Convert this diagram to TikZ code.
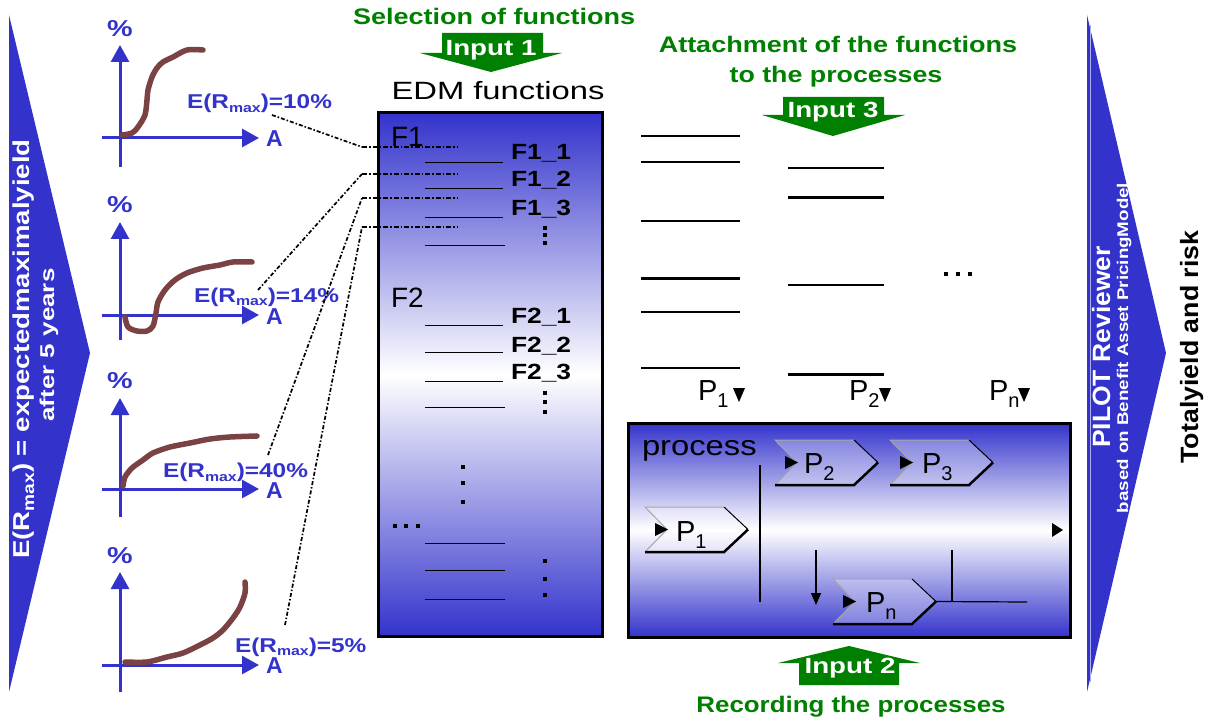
\documentclass[tikz,border=0pt]{standalone}
\usepackage{fontspec}
\setmainfont{Liberation Sans}
\usetikzlibrary{arrows.meta}
\definecolor{myblue}{RGB}{51,51,204}
\definecolor{mygreen}{RGB}{0,128,0}
\definecolor{mybrown}{RGB}{122,66,66}
\newcommand\myfs[1]{\fontsize{#1}{#1}\selectfont}
\newcommand\sx[2]{\scalebox{#1}[1]{#2}}
\begin{document}
\begin{tikzpicture}[x=1pt,y=-1pt,
  txt/.style={inner sep=0pt, outer sep=0pt},
  axis/.style={myblue, line width=3pt, -{Triangle[length=17pt,width=18pt]}},
  curve/.style={mybrown, line width=5.5pt, line join=round, line cap=round},
  axlab/.style={txt, text=myblue, font=\bfseries\myfs{23}},
  elab/.style={txt, text=myblue, font=\bfseries\myfs{20}, anchor=base west},
  diaglink/.style={black, line width=1.7pt, dash pattern=on 4pt off 2pt on 1.5pt off 2pt},
  horlink/.style={black, line width=2.3pt, dash pattern=on 5pt off 2pt on 1.5pt off 2pt},
  gtitle/.style={txt, text=mygreen, font=\bfseries\myfs{22.5}, anchor=base},
  inlab/.style={txt, text=white, font=\bfseries\myfs{22}, anchor=base},
  garrow/.style={fill=mygreen},
  flab/.style={txt, font=\bfseries\myfs{22}, anchor=base west},
  fbig/.style={txt, font=\myfs{28}, anchor=base west},
  plab/.style={txt, font=\myfs{29}, anchor=base west},
  uline/.style={black, line width=0.9pt},
  colline/.style={black, line width=1.2pt},
  colthick/.style={black, line width=3pt},
  gradbox/.style={draw=black, line width=3pt, top color=myblue, bottom color=myblue, middle color=white, inner sep=0pt},
  chev/.pic={
    \fill[white, opacity=0.3] (0,0) -- (79,0) -- (103,22.5) -- (79,45) -- (0,45) -- (22,22.5) -- cycle;
    \draw[gray!70, line width=1pt] (0,45) -- (22,22.5) -- (0,0) -- (79,0);
    \draw[black, line width=1pt] (79,0) -- (103,22.5);
    \draw[black, line width=2.5pt, line join=miter] (103,22.5) -- (79,45) -- (0,45);
    \fill[black] (10,16) -- (23,22.5) -- (10,29) -- cycle;
    \coordinate (-tip) at (103,22.5);
  }
]
\useasboundingbox (0,0) rectangle (1206,719);

% ---------- left triangle ----------
\fill[myblue] (9,15) -- (90,353) -- (9,692) -- cycle;
\node[txt, rotate=90, anchor=base, text=white, font=\bfseries\myfs{23}] (lt1) at (29,349)
  {\sx{1.2}{E(R\raisebox{-5pt}{\myfs{16}max}) = expectedmaximalyield}};
\node[txt, rotate=90, anchor=base, text=white, font=\bfseries\myfs{20}] (lt2) at (54,345)
  {\sx{1.3}{after 5 years}};

% ---------- right triangle ----------
\fill[myblue] (1087,15) -- (1166,353) -- (1087,692) -- cycle;
\draw[white!60!myblue, line width=0.8pt] (1090,25) -- (1090,682);
\node[txt, rotate=90, anchor=base, text=white, font=\bfseries\myfs{25}] (pilot) at (1110,347)
  {\sx{1.06}{PILOT Reviewer}};
\node[txt, rotate=90, anchor=base, text=white, font=\bfseries\myfs{15.5}] (bapm) at (1128,348)
  {\sx{1.21}{based on Benefit Asset PricingModel}};
\node[txt, rotate=90, anchor=base, text=black, font=\bfseries\myfs{25}] (total) at (1198,347)
  {\sx{1.07}{Totalyield and risk}};

% ---------- charts ----------
% chart 1
\draw[axis] (120,167) -- (120,45);
\draw[axis] (102,138) -- (259,138);
\draw[curve] plot[smooth] coordinates {(122,135) (132,133) (138,127) (145,115) (147,100) (148,90) (152,77) (157,68) (163,62) (173,57) (187,50) (203,50)};
\node[axlab, anchor=base] (pc1) at (120,37) {\sx{1.25}{\%}};
\node[axlab, anchor=base west] (a1) at (266,147) {A};
\node[elab] (e1) at (187,109) {\sx{1.22}{E(R\raisebox{-4pt}{\myfs{13}max})=10\%}};
% chart 2
\draw[axis] (120,340) -- (120,222);
\draw[axis] (102,315) -- (259,315);
\draw[curve] plot[smooth] coordinates {(125,317) (128,327) (137,331) (147,331) (153,326) (156,313) (158,302) (165,290) (175,280) (187,273) (203,268) (220,265) (233,262) (252,262)};
\node[axlab, anchor=base] (pc2) at (120,213) {\sx{1.25}{\%}};
\node[axlab, anchor=base west] (a2) at (266,324) {A};
\node[elab] (e2) at (194,302) {\sx{1.22}{E(R\raisebox{-3pt}{\myfs{13}max})=14\%}};
% chart 3
\draw[axis] (120,517) -- (120,398);
\draw[axis] (102,489) -- (259,489);
\draw[curve] plot[smooth] coordinates {(123,486) (125,477) (132,468) (143,460) (153,453) (170,447) (190,443) (210,439) (230,437) (257,436)};
\node[axlab, anchor=base] (pc3) at (120,388) {\sx{1.25}{\%}};
\node[axlab, anchor=base west] (a3) at (266,498) {A};
\node[elab] (e3) at (163,477) {\sx{1.22}{E(R\raisebox{-4pt}{\myfs{13}max})=40\%}};
% chart 4
\draw[axis] (120,692) -- (120,572);
\draw[axis] (102,665) -- (259,665);
\draw[curve] plot[smooth] coordinates {(125,662) (147,662) (167,657) (183,653) (200,645) (213,638) (223,630) (233,618) (240,607) (245,593) (245,582)};
\node[axlab, anchor=base] (pc4) at (120,563) {\sx{1.25}{\%}};
\node[axlab, anchor=base west] (a4) at (266,673) {A};
\node[elab] (e4) at (235,652) {\sx{1.22}{E(R\raisebox{-3pt}{\myfs{13}max})=5\%}};

% ---------- top green titles and arrows ----------
\node[gtitle] (sel) at (494,25) {\sx{1.2}{Selection of functions}};
\fill[garrow] (442,33) -- (543,33) -- (543,53) -- (562,53) -- (491,72) -- (420,53) -- (442,53) -- cycle;
\node[inlab] (in1) at (491,56) {\sx{1.26}{Input 1}};

\node[gtitle] (att) at (838,53) {\sx{1.2}{Attachment of the functions}};
\node[gtitle] (tothe) at (836,83) {\sx{1.19}{to the processes}};
\fill[garrow] (783,97) -- (884,97) -- (884,115) -- (905,115) -- (833,136) -- (762,115) -- (783,115) -- cycle;
\node[inlab] (in3) at (833,118) {\sx{1.26}{Input 3}};

% ---------- EDM box ----------
\node[txt, anchor=base, font=\myfs{25}] (edmt) at (498,100) {\sx{1.31}{EDM functions}};
\node[gradbox, minimum width=224pt, minimum height=523pt] (edm) at (490,374.5) {};
\node[fbig] (f1) at (391,147) {F1};
\node[fbig] (f2) at (391,307) {F2};
\foreach \y in {162,188,217,325,352,381} \draw[uline] (425,\y) -- (503,\y);
\foreach \y in {245,407,543,570,599} \draw[uline] (425,\y) -- (505,\y);
\node[flab] (f11) at (511,160) {\sx{1.2}{F1\_1}};
\node[flab] (f12) at (511,187) {\sx{1.2}{F1\_2}};
\node[flab] (f13) at (511,216) {\sx{1.2}{F1\_3}};
\node[flab] (f21) at (511,323) {\sx{1.2}{F2\_1}};
\node[flab] (f22) at (511,352) {\sx{1.2}{F2\_2}};
\node[flab] (f23) at (511,379) {\sx{1.2}{F2\_3}};
\foreach \x/\y in {545/228,545/235,545/243,545/393,545/402,545/412,545/561,545/579,545/595,463/467,463/483,463/502,395/526,406/526,418/526}
  \fill[black] (\x-2,\y-2) rectangle (\x+2,\y+2);

% ---------- dotted links ----------
\coordinate (s1) at (272,115); \coordinate (k1) at (362,147); \coordinate (t1) at (457,147);
\coordinate (s2) at (258,290); \coordinate (k2) at (362,174); \coordinate (t2) at (457,174);
\coordinate (s3) at (268,455); \coordinate (k3) at (362,198); \coordinate (t3) at (457,198);
\coordinate (s4) at (285,625); \coordinate (k4) at (362,227); \coordinate (t4) at (457,227);
\foreach \i in {1,2,3,4} {
  \draw[diaglink] (s\i) -- (k\i);
  \draw[horlink] (k\i) -- (t\i);
}

% ---------- process columns ----------
\foreach \y in {136,162,221,312,368} \draw[colline] (641,\y) -- (740,\y);
\draw[colthick] (641,278) -- (740,278);
\foreach \y in {168,285} \draw[colline] (788,\y) -- (884,\y);
\foreach \y in {198,374} \draw[colthick] (788,\y) -- (884,\y);
\foreach \x in {946,958,970} \fill[black] (\x-2,272) rectangle (\x+2,276);

\node[plab] (p1top) at (698,400) {P\raisebox{-7pt}{\myfs{20}1}};
\fill[black] (733,388) -- (745,388) -- (739,402) -- cycle;
\node[plab] (p2top) at (849,400) {P\raisebox{-7pt}{\myfs{20}2}};
\fill[black] (879,388) -- (891,388) -- (885,402) -- cycle;
\node[plab] (pntop) at (989,400) {P\raisebox{-7pt}{\myfs{20}n}};
\fill[black] (1018,388) -- (1030,388) -- (1024,402) -- cycle;

% ---------- process box ----------
\node[gradbox, minimum width=442pt, minimum height=214pt] (proc) at (849,530) {};
\node[txt, anchor=base west, font=\myfs{28}] (proct) at (642,455) {\sx{1.17}{process}};
\pic (c1) at (645,507) {chev};
\pic (c2) at (775,440) {chev};
\pic (c3) at (890,440) {chev};
\pic (cn) at (833,579) {chev};
\node[plab] (c1l) at (676,541) {P\raisebox{-7pt}{\myfs{20}1}};
\node[plab] (c2l) at (804,473) {P\raisebox{-7pt}{\myfs{20}2}};
\node[plab] (c3l) at (922,473) {P\raisebox{-7pt}{\myfs{20}3}};
\node[plab] (cnl) at (866,612) {P\raisebox{-7pt}{\myfs{20}n}};
\coordinate (v1a) at (760,465); \coordinate (v1b) at (760,602);
\draw[black, line width=2.5pt] (v1a) -- (v1b);
\coordinate (da) at (816,550); \coordinate (db) at (816,605);
\draw[black, line width=1.5pt, -{Triangle[length=12pt,width=10pt]}] (da) -- (db);
\coordinate (v2a) at (952,550); \coordinate (v2b) at (952,602);
\draw[black, line width=2.5pt] (v2a) -- (v2b);
\coordinate (hend) at (1027,602);
\draw[black, line width=1.2pt] (cn-tip) -- (hend);
\fill[black] (1052,523) -- (1063,530) -- (1052,537) -- cycle;

% ---------- bottom green ----------
\fill[garrow] (849,646) -- (920,663) -- (899,663) -- (899,685) -- (799,685) -- (799,663) -- (778,663) -- cycle;
\node[inlab] (in2) at (850,673) {\sx{1.26}{Input 2}};
\node[gtitle] (rec) at (851,712) {\sx{1.15}{Recording the processes}};
\end{tikzpicture}
\end{document}
